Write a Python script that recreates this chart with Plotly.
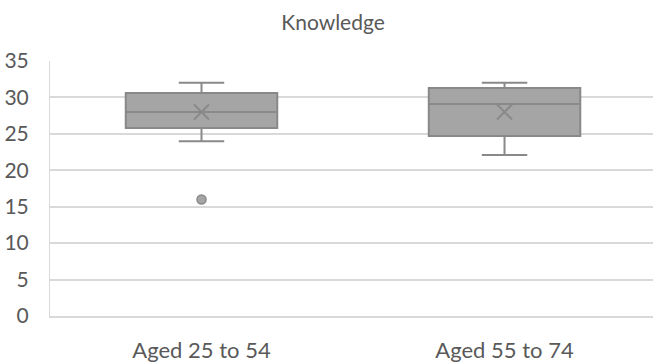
import plotly.graph_objects as go

categories = ["Aged 25 to 54", "Aged 55 to 74"]
q1 = [25.8, 24.7]
median = [28.0, 29.1]
q3 = [30.6, 31.3]
lower_fence = [24.0, 22.1]
upper_fence = [32.0, 32.0]
means = [28.0, 28.0]
outlier_x = ["Aged 25 to 54"]
outlier_y = [16.0]
y_ticks = [0, 5, 10, 15, 20, 25, 30, 35]

FILL = "#A5A5A5"
LINE = "#898989"
TEXT = "#595959"
GRID = "#D9D9D9"
FONT = "Lato, Carlito, Calibri, sans-serif"

fig = go.Figure()
fig.add_trace(go.Box(
    x=categories, q1=q1, median=median, q3=q3,
    lowerfence=lower_fence, upperfence=upper_fence,
    boxpoints=False, width=0.5, whiskerwidth=0.3,
    fillcolor=FILL, line=dict(color=LINE, width=2),
    showlegend=False, hoverinfo="skip",
))
fig.add_trace(go.Scatter(
    x=categories, y=means, mode="markers",
    marker=dict(symbol="x-thin", size=15, line=dict(color=LINE, width=2)),
    showlegend=False, hoverinfo="skip",
))
fig.add_trace(go.Scatter(
    x=outlier_x, y=outlier_y, mode="markers",
    marker=dict(symbol="circle", size=9, color=FILL, line=dict(color=LINE, width=1.5)),
    showlegend=False, hoverinfo="skip",
))

fig.update_layout(
    width=653, height=363,
    margin=dict(l=50, r=0, t=61, b=47, autoexpand=False),
    paper_bgcolor="white", plot_bgcolor="white",
    font=dict(family=FONT, color=TEXT),
    title=dict(text="Knowledge", x=0.51, xanchor="center", y=0.937, yanchor="middle",
               font=dict(size=21, color=TEXT, family=FONT)),
)
fig.update_xaxes(
    type="category", categoryorder="array", categoryarray=categories,
    range=[-0.5, 1.49], showgrid=False, showline=True, linecolor=GRID, linewidth=1.5,
    ticks="", ticklabelstandoff=14, tickfont=dict(size=22, color=TEXT, family=FONT),
)
fig.update_yaxes(
    range=[0, 35], tickvals=y_ticks, showgrid=True, gridcolor=GRID, gridwidth=1.5,
    zeroline=False, showline=True, linecolor=GRID, linewidth=1,
    ticks="", ticklabelstandoff=16, tickfont=dict(size=21, color=TEXT, family=FONT),
)

fig.write_html("out.html", config={"displayModeBar": False},
               post_script="document.body.style.margin='0';")
